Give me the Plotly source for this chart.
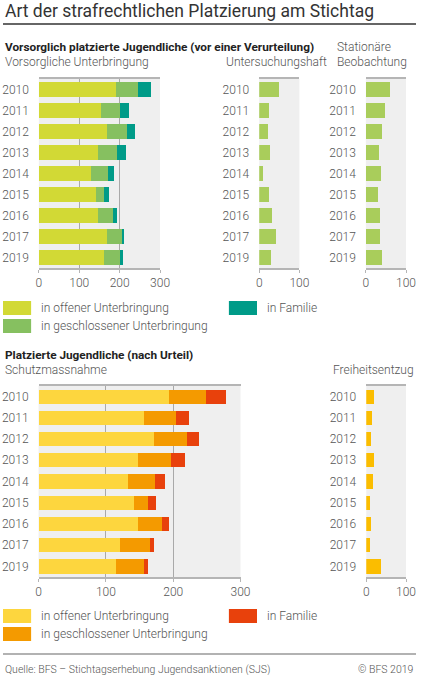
import plotly.graph_objects as go

W, H = 426, 675

years = ["2010", "2011", "2012", "2013", "2014", "2015", "2016", "2017", "2019"]

# Vorsorgliche Unterbringung (vor Urteil)
vu_offen = [190, 154, 169, 146, 130, 142, 147, 168, 162]
vu_geschl = [56, 48, 50, 48, 41, 20, 36, 39, 40]
vu_familie = [32, 20, 19, 21, 15, 12, 11, 4, 6]

untersuchungshaft = [48, 24, 23, 27, 9, 24, 31, 43, 29]
stat_beobachtung = [60, 47, 41, 33, 37, 31, 36, 36, 39]

# Schutzmassnahme (nach Urteil)
sm_offen = [193, 156, 171, 148, 133, 142, 148, 121, 115]
sm_geschl = [55, 48, 49, 48, 40, 20, 36, 45, 42]
sm_familie = [31, 19, 19, 21, 15, 12, 10, 5, 6]

freiheitsentzug = [20, 14, 12, 20, 16, 9, 11, 10, 38]

C_YG, C_GR, C_TE = "#d2d935", "#86c060", "#009b88"
C_YE, C_OR, C_RE = "#fdd63e", "#f49a00", "#e8410c"
C_UH = "#a9cd5b"
C_FE = "#fbbd00"

def px_x(v):
    return v / W

def px_y(v):
    return 1 - v / H

fig = go.Figure()

def bar(vals, color, ax):
    fig.add_trace(go.Bar(
        y=years, x=vals, orientation="h", marker=dict(color=color, line=dict(width=0)),
        xaxis="x" + ax, yaxis="y" + ax, showlegend=False, hoverinfo="skip",
    ))

bar(vu_offen, C_YG, "")
bar(vu_geschl, C_GR, "")
bar(vu_familie, C_TE, "")
bar(untersuchungshaft, C_UH, "2")
bar(stat_beobachtung, C_UH, "3")
bar(sm_offen, C_YE, "4")
bar(sm_geschl, C_OR, "4")
bar(sm_familie, C_RE, "4")
bar(freiheitsentzug, C_FE, "5")
# fix first axis names
for t in fig.data[:3]:
    t.xaxis, t.yaxis = "x", "y"

top_dom = [px_y(268), px_y(79)]
bot_dom = [px_y(577), px_y(386)]
panels = {
    "": ([px_x(37), px_x(162)], top_dom, 300),
    "2": ([px_x(264.3), px_x(305.7)], top_dom, 100),
    "3": ([px_x(374.3), px_x(415.7)], top_dom, 100),
    "4": ([px_x(36.7), px_x(245)], bot_dom, 300),
    "5": ([px_x(374.7), px_x(415.7)], bot_dom, 100),
}

tick_font = dict(family="Roboto", size=12, color="#555", weight=300)
layout = {}
for k, (xd, yd, mx) in panels.items():
    layout["xaxis" + k] = dict(
        domain=xd, range=[0, mx], anchor="y" + k, tickvals=list(range(0, mx + 1, 100)),
        showgrid=True, gridcolor="#a9a9a9", gridwidth=1, zeroline=False,
        showline=True, linecolor="#b5b5b5", linewidth=1.5, mirror=True,
        ticks="outside", ticklen=3, tickcolor="#b5b5b5", tickfont=tick_font, fixedrange=True,
    )
    layout["yaxis" + k] = dict(
        domain=yd, anchor="x" + k, autorange="reversed", type="category",
        showgrid=False, zeroline=False, ticks="", tickfont=tick_font,
        ticklabelstandoff=9, fixedrange=True,
    )

ann = []
def text(x, y, s, size=12, color="#555", bold=False, xanchor="left", weight=300):
    if bold:
        weight = 700
    ann.append(dict(x=px_x(x), y=px_y(y), xref="paper", yref="paper", text=s, showarrow=False,
                    xanchor=xanchor, yanchor="middle",
                    font=dict(family="Roboto", size=size, color=color, weight=weight)))

text(0, 11, "Art der strafrechtlichen Platzierung am Stichtag", size=17.5, color="#333", weight=400)
text(0, 47, "Vorsorglich platzierte Jugendliche (vor einer Verurteilung)", size=11.8, color="#222", bold=True)
text(0, 62, "Vorsorgliche Unterbringung")
text(228, 62, "Untersuchungshaft")
text(342, 47, "Stationäre")
text(342, 62, "Beobachtung")
text(0, 355, "Platzierte Jugendliche (nach Urteil)", size=11.8, color="#222", bold=True)
text(0, 370, "Schutzmassnahme")
text(338, 370, "Freiheitsentzug")

shapes = [
    dict(type="line", xref="paper", yref="paper", x0=0, x1=1, y0=px_y(24), y1=px_y(24),
         line=dict(color="#333", width=1.5)),
    dict(type="line", xref="paper", yref="paper", x0=0, x1=1, y0=px_y(654), y1=px_y(654),
         line=dict(color="#999", width=1.5)),
]

def swatch(x, y, color, label):
    shapes.append(dict(type="rect", xref="paper", yref="paper", x0=px_x(x), x1=px_x(x + 29),
                       y0=px_y(y + 7), y1=px_y(y - 7), fillcolor=color, line=dict(width=0)))
    text(x + 37, y, label)

swatch(0, 308, C_YG, "in offener Unterbringung")
swatch(0, 326, C_GR, "in geschlossener Unterbringung")
swatch(233, 308, C_TE, "in Familie")
swatch(0, 616, C_YE, "in offener Unterbringung")
swatch(0, 634, C_OR, "in geschlossener Unterbringung")
swatch(233, 616, C_RE, "in Familie")

text(0, 669, "Quelle: BFS – Stichtagserhebung Jugendsanktionen (SJS)", size=10.5)
text(426, 669, "© BFS 2019", size=10.5, xanchor="right")

fig.update_layout(
    width=W, height=H, margin=dict(l=0, r=0, t=0, b=0),
    paper_bgcolor="white", plot_bgcolor="#efefef",
    barmode="stack", bargap=0.33, showlegend=False,
    annotations=ann, shapes=shapes, **layout,
)

# page body has a default margin that would shift the figure
fig.write_html("out.html", config={"displayModeBar": False},
               post_script="document.body.style.margin='0';")
